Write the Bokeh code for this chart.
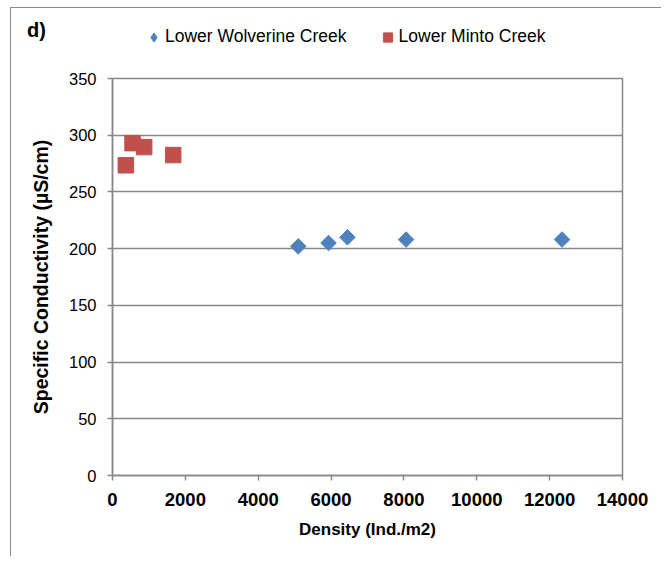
import numpy as np
from bokeh.plotting import figure
from bokeh.layouts import column
from bokeh.models import (Legend, LegendItem, Label, FixedTicker, Range1d, ColumnDataSource)
from bokeh.embed import file_html
from bokeh.resources import INLINE

# ---- data ----
wolverine_density = [5100, 5930, 6450, 8060, 12340]
wolverine_cond = [202, 205, 210, 208, 208]
minto_density = [366, 550, 869, 1666]
minto_cond = [273.5, 293, 289.5, 282.5]
series_names = ["Lower Wolverine Creek", "Lower Minto Creek"]
x_ticks = [0, 2000, 4000, 6000, 8000, 10000, 12000, 14000]
y_ticks = [0, 50, 100, 150, 200, 250, 300, 350]

BLUE = "#4F81BD"
RED = "#C0504D"
GRID = "#878787"
FONT = "Liberation Sans"

W = 650
TOP_H = 56
MAIN_H = 492

src_w = ColumnDataSource(dict(x=wolverine_density, y=wolverine_cond))
src_m = ColumnDataSource(dict(x=minto_density, y=minto_cond))

# ---------- header strip: panel label + legend ----------
top = figure(width=W, height=TOP_H, output_backend="svg", toolbar_location=None,
             x_range=Range1d(0, W), y_range=Range1d(0, TOP_H),
             x_axis_type=None, y_axis_type=None, frame_align=False,
             min_border_left=0, min_border_right=0, min_border_top=0, min_border_bottom=0)
top.outline_line_color = None
top.grid.grid_line_color = None
top.background_fill_color = "white"
top.border_fill_color = "white"

# legend proxies (same series; their points fall outside this strip's ranges)
lw = top.scatter("x", "y", source=src_w, marker="diamond",
                 fill_color=BLUE, line_color=BLUE)
lm = top.scatter("x", "y", source=src_m, marker="square",
                 fill_color=RED, line_color=RED)
legend = Legend(items=[LegendItem(label=series_names[0], renderers=[lw]),
                       LegendItem(label=series_names[1], renderers=[lm])],
                orientation="horizontal", location=(131, 14),
                glyph_width=23, glyph_height=26, label_standoff=0,
                spacing=29, padding=0, margin=0,
                label_text_font=FONT, label_text_font_size="17.5px",
                label_text_color="black",
                border_line_color=None, background_fill_alpha=0)
top.add_layout(legend, "center")

top.add_layout(Label(x=15.5, y=45.5, text="d)", text_font=FONT, text_font_size="20px",
                     text_font_style="bold", text_baseline="top", text_color="black"))

# ---------- main scatter ----------
p = figure(width=W, height=MAIN_H, output_backend="svg", toolbar_location=None,
           x_range=Range1d(0, 14000), y_range=Range1d(0, 350), frame_align=False,
           min_border_left=101, min_border_right=39,
           min_border_top=14, min_border_bottom=81)
p.background_fill_color = "white"
p.border_fill_color = "white"
p.outline_line_color = GRID
p.outline_line_width = 1.5

p.xgrid.grid_line_color = None
p.ygrid.grid_line_color = GRID
p.ygrid.grid_line_width = 1.5
p.ygrid.ticker = FixedTicker(ticks=y_ticks)

p.xaxis.ticker = FixedTicker(ticks=x_ticks)
p.yaxis.ticker = FixedTicker(ticks=y_ticks)
for ax in (p.xaxis[0], p.yaxis[0]):
    ax.axis_line_color = GRID
    ax.axis_line_width = 1.5
    ax.major_tick_line_color = GRID
    ax.major_tick_line_width = 1.5
    ax.major_tick_out = 5
    ax.major_tick_in = 0
    ax.minor_tick_line_color = None
    ax.major_label_text_font = FONT
    ax.major_label_text_color = "black"
    ax.axis_label_text_font = FONT
    ax.axis_label_text_font_style = "bold"
    ax.axis_label_text_color = "black"

p.xaxis.major_label_text_font_size = "18.5px"
p.xaxis.major_label_text_font_style = "bold"
p.xaxis.major_label_standoff = 12
p.xaxis.axis_label = "Density (Ind./m2)"
p.xaxis.axis_label_text_font_size = "17px"
p.xaxis.axis_label_standoff = 11

p.yaxis.major_label_text_font_size = "16.5px"
p.yaxis.major_label_standoff = 11
p.yaxis.axis_label = "Specific Conductivity (µS/cm)"
p.yaxis.axis_label_text_font_size = "19.5px"
p.yaxis.axis_label_standoff = 14

p.scatter("x", "y", source=src_w, marker="square", angle=np.pi / 4,
          size=11, fill_color=BLUE, line_color=BLUE, line_width=1)
p.scatter("x", "y", source=src_m, marker="square",
          size=15.5, fill_color=RED, line_color=RED, line_width=1)

layout = column(top, p, spacing=0,
                styles={"margin-left": "10px", "margin-top": "6.5px",
                        "border-left": "1.5px solid #8a8a8a",
                        "border-top": "1.5px solid #8a8a8a"})

open("out.html", "w").write(file_html(layout, INLINE))
